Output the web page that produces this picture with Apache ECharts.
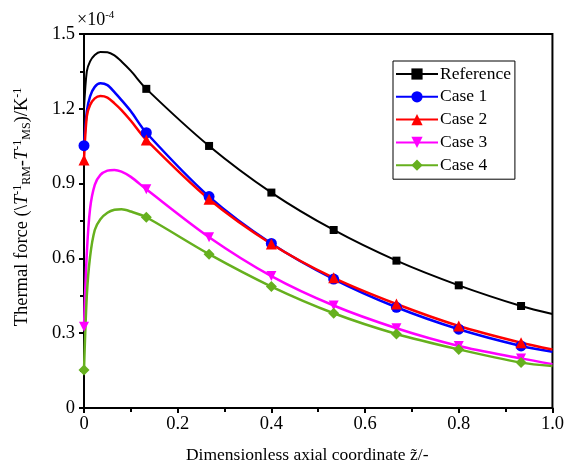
<!DOCTYPE html>
<html><head><meta charset="utf-8">
<script src="https://cdn.jsdelivr.net/npm/echarts@6/dist/echarts.min.js"></script>
<style>html,body{margin:0;padding:0;background:#fff}#c{width:567px;height:470px}</style>
</head><body><div id="c"></div>
<script>
const xs = [0, 0.006, 0.013, 0.023, 0.035, 0.05, 0.065, 0.08, 0.1, 0.133, 0.267, 0.4, 0.533, 0.667, 0.8, 0.933, 1.0];
const markerX = [0, 0.133, 0.267, 0.4, 0.533, 0.667, 0.8, 0.933];
const refVals  = [1.20, 1.35, 1.39, 1.416, 1.428, 1.427, 1.414, 1.39, 1.352, 1.28, 1.051, 0.864, 0.714, 0.591, 0.492, 0.409, 0.377];
const case1Vals = [1.052, 1.19, 1.25, 1.288, 1.302, 1.295, 1.267, 1.235, 1.19, 1.104, 0.848, 0.660, 0.517, 0.404, 0.316, 0.249, 0.226];
const case2Vals = [0.995, 1.17, 1.215, 1.242, 1.251, 1.245, 1.222, 1.195, 1.152, 1.075, 0.837, 0.658, 0.522, 0.417, 0.329, 0.262, 0.235];
const case3Vals = [0.326, 0.62, 0.80, 0.895, 0.935, 0.952, 0.955, 0.948, 0.927, 0.877, 0.685, 0.529, 0.411, 0.320, 0.249, 0.199, 0.176];
const case4Vals = [0.152, 0.45, 0.607, 0.714, 0.757, 0.783, 0.795, 0.797, 0.788, 0.765, 0.617, 0.487, 0.380, 0.297, 0.235, 0.182, 0.168];
const xTicks = ['0', '0.2', '0.4', '0.6', '0.8', '1.0'];
const yTicks = ['0', '0.3', '0.6', '0.9', '1.2', '1.5'];
const names = ['Reference', 'Case 1', 'Case 2', 'Case 3', 'Case 4'];

const FONT = '"Liberation Serif", "Times New Roman", serif';
const cfg = [
  {vals: refVals, color: '#000000', symbol: 'rect', size: 8, width: 2, skipFirst: true},
  {vals: case1Vals, color: '#0000ff', symbol: 'circle', size: 11, width: 2.5},
  {vals: case2Vals, color: '#ff0000', symbol: 'triangle', size: 11, width: 2.5},
  {vals: case3Vals, color: '#ff00ff', symbol: 'path://M0,0 L10,0 L5,9 Z', size: 10, width: 2.5},
  {vals: case4Vals, color: '#66b01e', symbol: 'diamond', size: 11, width: 2.5}
];

const series = cfg.map((c, si) => ({
  name: names[si],
  type: 'line',
  smooth: 0.3,
  symbol: c.symbol,
  symbolSize: c.size,
  showAllSymbol: true,
  clip: true,
  lineStyle: {color: c.color, width: c.width},
  itemStyle: {color: c.color},
  data: xs.map((x, i) => {
    const isMarker = markerX.indexOf(x) >= 0 && !(c.skipFirst && i === 0);
    return isMarker ? {value: [x, c.vals[i]]} : {value: [x, c.vals[i]], symbol: 'none'};
  })
}));

const chart = echarts.init(document.getElementById('c'), null, {renderer: 'canvas'});
chart.setOption({
  animation: false,
  backgroundColor: '#fff',
  textStyle: {fontFamily: FONT},
  grid: {left: 84, right: 13, top: 34, bottom: 62, show: true, borderColor: '#000', borderWidth: 2, backgroundColor: 'transparent'},
  legend: {
    orient: 'vertical', left: 393, top: 61,
    padding: [4, 4, 5, 2],
    borderColor: '#000', borderWidth: 1,
    itemWidth: 42, itemHeight: 14, itemGap: 4.8,
    textStyle: {fontFamily: FONT, fontSize: 17.5, color: '#000', lineHeight: 16, padding: [0, 0, 0, -3]},
    data: names
  },
  xAxis: {
    type: 'value', min: 0, max: 1, interval: 0.2,
    name: 'Dimensionless axial coordinate z\u0303/-',
    nameLocation: 'middle', nameGap: 38,
    nameTextStyle: {fontFamily: FONT, fontSize: 17.5, color: '#000', padding: [0, 22, 0, 0]},
    axisLine: {show: true, lineStyle: {color: '#000', width: 2}},
    axisTick: {show: true, inside: false, length: 5, lineStyle: {color: '#000', width: 2}},
    minorTick: {show: true, splitNumber: 2, length: 4, lineStyle: {color: '#000', width: 2}},
    splitLine: {show: false},
    axisLabel: {fontFamily: FONT, fontSize: 18.5, color: '#000', margin: 7,
      formatter: v => xTicks[Math.round(v / 0.2)]}
  },
  yAxis: {
    type: 'value', min: 0, max: 1.5, interval: 0.3,
    name: 'Thermal force (\\{it|T}{sup|-1}{sub|RM}-{it|T}{sup|-1}{sub|MS})/K{sup|-1}',
    nameLocation: 'middle', nameGap: 51, nameRotate: 90,
    nameTextStyle: {fontFamily: FONT, fontSize: 18.5, color: '#000', padding: [0, 0, 0, 28],
      rich: {
        it: {fontFamily: FONT, fontSize: 18.5, fontStyle: 'italic', color: '#000'},
        sup: {fontFamily: FONT, fontSize: 12, color: '#000', verticalAlign: 'bottom', padding: [0, 0, 9, 0]},
        sub: {fontFamily: FONT, fontSize: 12, color: '#000', verticalAlign: 'top', padding: [9, 0, 0, 0]}
      }},
    axisLine: {show: true, lineStyle: {color: '#000', width: 2}},
    axisTick: {show: true, inside: false, length: 5, lineStyle: {color: '#000', width: 2}},
    minorTick: {show: true, splitNumber: 2, length: 4, lineStyle: {color: '#000', width: 2}},
    splitLine: {show: false},
    axisLabel: {fontFamily: FONT, fontSize: 18.5, color: '#000', margin: 9,
      formatter: v => yTicks[Math.round(v / 0.3)]}
  },
  graphic: [{
    type: 'text', left: 77, top: 10,
    style: {
      text: '\u00d710{sup|-4}',
      font: '18px ' + FONT, fill: '#000',
      rich: {sup: {fontFamily: FONT, fontSize: 11, fill: '#000', verticalAlign: 'top', padding: [0, 0, 9, 0]}}
    }
  }],
  series: series
});
</script></body></html>
